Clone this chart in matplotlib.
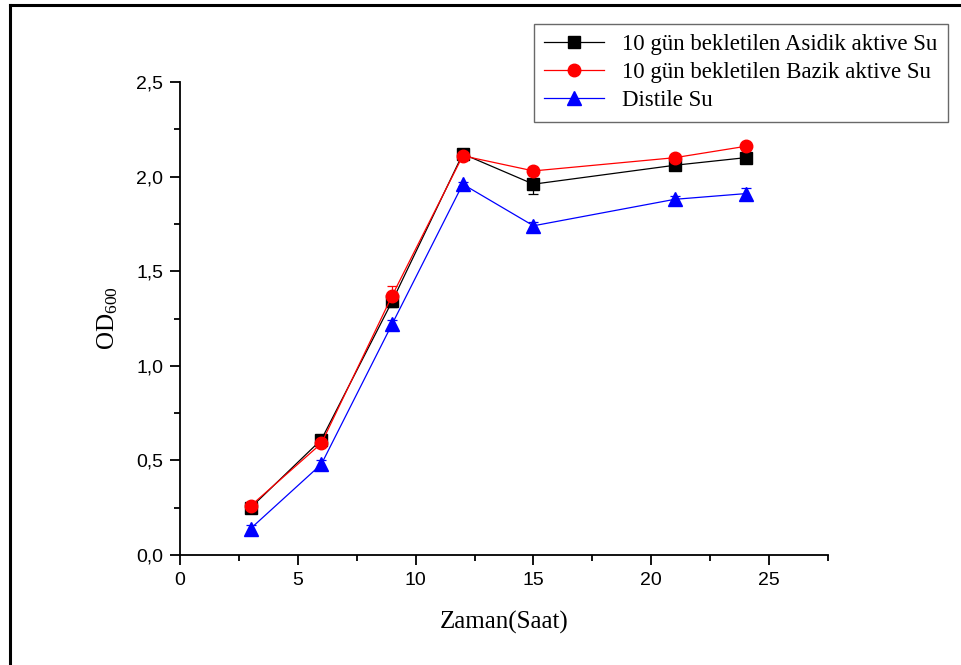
import numpy as np
import matplotlib.pyplot as plt
from matplotlib.lines import Line2D
from matplotlib.ticker import MultipleLocator, FuncFormatter

# sampling times (hours)
zaman = [3, 6, 9, 12, 15, 21, 24]

asidik = [0.25, 0.61, 1.34, 2.12, 1.96, 2.06, 2.10]
asidik_err = [0.01, 0.02, 0.03, 0.01, 0.05, 0.01, 0.01]

bazik = [0.26, 0.59, 1.37, 2.11, 2.03, 2.10, 2.16]
bazik_err = [0.01, 0.02, 0.05, 0.01, 0.02, 0.01, 0.01]

distile = [0.14, 0.48, 1.22, 1.96, 1.74, 1.88, 1.91]
distile_err = [0.02, 0.02, 0.02, 0.01, 0.02, 0.02, 0.03]

labels = ['10 gün bekletilen Asidik aktive Su',
          '10 gün bekletilen Bazik aktive Su',
          'Distile Su']

serif = 'Liberation Serif'
sans = 'Liberation Sans'
plt.rcParams['mathtext.fontset'] = 'custom'
plt.rcParams['mathtext.rm'] = serif
plt.rcParams['mathtext.it'] = serif

fig = plt.figure(figsize=(9.62, 6.65), dpi=100)
ax = fig.add_axes([180/962, 1 - 555/665, (828 - 180)/962, (555 - 82)/665])

series = [
    (asidik, asidik_err, 'black', 's', 8),
    (bazik, bazik_err, 'red', 'o', 9),
    (distile, distile_err, 'blue', '^', 10),
]
handles = []
for (y, err, c, m, ms), lab in zip(series, labels):
    ax.errorbar(zaman, y, yerr=err, color=c, marker=m, markersize=ms,
                linewidth=0.9, elinewidth=0.9, capsize=3.5, capthick=0.9)
    handles.append(Line2D([], [], color=c, marker=m, markersize=ms,
                          linewidth=0.9, label=lab))

ax.set_xlim(0, 27.5)
ax.set_ylim(0, 2.5)
ax.xaxis.set_major_locator(MultipleLocator(5))
ax.xaxis.set_minor_locator(MultipleLocator(2.5))
ax.yaxis.set_major_locator(MultipleLocator(0.5))
ax.yaxis.set_minor_locator(MultipleLocator(0.25))
ax.yaxis.set_major_formatter(FuncFormatter(lambda v, p: f'{v:.1f}'.replace('.', ',')))

for s in ['top', 'right']:
    ax.spines[s].set_visible(False)
for s in ['left', 'bottom']:
    ax.spines[s].set_linewidth(1.3)
ax.tick_params(which='major', direction='out', length=7, width=1.3,
               labelsize=14, pad=5)
ax.tick_params(which='minor', direction='out', length=4, width=1.3)
for t in ax.get_xticklabels() + ax.get_yticklabels():
    t.set_fontfamily(sans)

ax.set_xlabel('Zaman(Saat)', fontfamily=serif, fontsize=18, labelpad=16)
ax.set_ylabel(r'$\mathrm{OD}_{600}$', fontfamily=serif, fontsize=18, labelpad=12)

leg = fig.legend(handles=handles, loc='upper right',
                 bbox_to_anchor=(948/962, 1 - 24/665), borderaxespad=0,
                 prop={'family': serif, 'size': 16.5}, fancybox=False,
                 edgecolor='#444444', handlelength=2.6, labelspacing=0.3,
                 borderpad=0.45)
leg.get_frame().set_linewidth(1.0)

# outer frame lines
fig.add_artist(Line2D([10/962, 1], [1 - 5/665, 1 - 5/665], color='black',
                      linewidth=2.2, transform=fig.transFigure))
fig.add_artist(Line2D([10/962, 10/962], [0, 1 - 5/665], color='black',
                      linewidth=2.2, transform=fig.transFigure))

fig.savefig('out.png', dpi=100)
